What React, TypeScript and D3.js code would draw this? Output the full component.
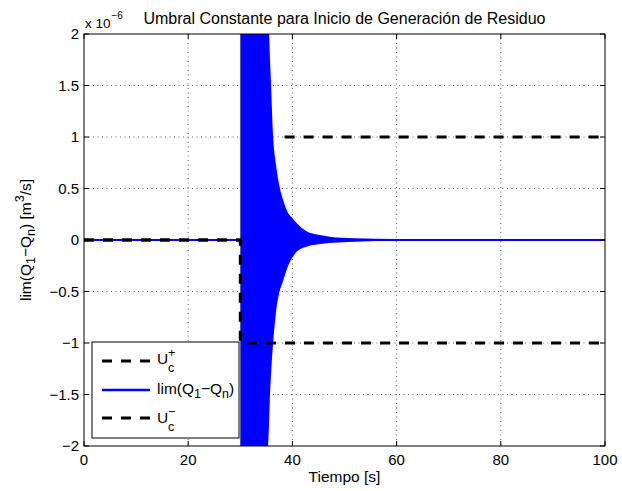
import React from 'react'
import * as d3 from 'd3'

// axis ticks
const xTicks = [0, 20, 40, 60, 80, 100]
const yTicks = [-2, -1.5, -1, -0.5, 0, 0.5, 1, 1.5, 2]
const yTickLabels = ['\u22122', '\u22121.5', '\u22121', '\u22120.5', '0', '0.5', '1', '1.5', '2']

// envelope of the oscillating residual (x 1e-6 m^3/s)
const envTime = [30, 35.3, 35.5, 35.7, 35.9, 36.3, 36.8, 37.4, 38.2, 39.1, 40.0, 40.8, 42.7, 45, 47.2, 52, 60, 70, 100]
const envUpper = [2, 2, 2, 1.75, 1.5, 1.0, 0.75, 0.55, 0.39, 0.27, 0.21, 0.165, 0.085, 0.05, 0.032, 0.017, 0.009, 0.004, 0]
const envLower = [-2, -2, -1.8, -1.5, -1.3, -1.0, -0.72, -0.53, -0.4, -0.26, -0.17, -0.115, -0.065, -0.042, -0.03, -0.016, -0.008, -0.004, 0]

// residual outside the transient
const resTime = [0, 30, 100]
const resVal = [0, 0, 0]

// thresholds
const uPlusTime = [0, 30, 30, 38.5, 100]
const uPlusVal = [0, 0, NaN, 1, 1]
const uMinusTime = [0, 30, 30, 100]
const uMinusVal = [0, 0, -1, -1]

const font = '"Liberation Sans", Arial, Helvetica, sans-serif'

export default function App() {
  const margin = { top: 34, left: 84, right: 605, bottom: 446 }

  const x = d3.scaleLinear().domain([0, 100]).range([margin.left, margin.right])
  const y = d3.scaleLinear().domain([-2, 2]).range([margin.bottom, margin.top])

  const area = d3.area<number>()
    .x((d, i) => x(envTime[i]))
    .y0((d, i) => y(envLower[i]))
    .y1((d, i) => y(envUpper[i]))
    .curve(d3.curveMonotoneX)

  const line = d3.line<[number, number]>()
    .defined(d => !isNaN(d[1]))
    .x(d => x(d[0]))
    .y(d => y(d[1]))

  const uPlus = uPlusTime.map((t, i) => [t, uPlusVal[i]] as [number, number])
  const uMinus = uMinusTime.map((t, i) => [t, uMinusVal[i]] as [number, number])
  const res = resTime.map((t, i) => [t, resVal[i]] as [number, number])

  const w = margin.right - margin.left
  const h = margin.bottom - margin.top
  const dash = '10,9'
  const fs = 15
  const lfs = 15.5
  const sub = 12.5

  // legend
  const lg = { x: 92, y: 342, w: 147, h: 96 }
  const rows = [361, 390, 418]

  return (
    <svg width={622} height={491} style={{ position: 'absolute', left: 0, top: 0, background: '#fff' }} fontFamily={font}>
      <defs>
        <clipPath id="plot">
          <rect x={margin.left} y={margin.top} width={w} height={h} />
        </clipPath>
      </defs>
      <rect x={margin.left} y={margin.top} width={w} height={h} fill="#fff" />

      {/* grid */}
      {xTicks.slice(1, -1).map(t => (
        <line key={'gx' + t} x1={x(t)} x2={x(t)} y1={margin.top} y2={margin.bottom}
          stroke="#000" strokeWidth={0.6} strokeDasharray="1,3.5" />
      ))}
      {yTicks.slice(1, -1).map(t => (
        <line key={'gy' + t} x1={margin.left} x2={margin.right} y1={y(t)} y2={y(t)}
          stroke="#000" strokeWidth={0.6} strokeDasharray="1,3.5" />
      ))}

      <g clipPath="url(#plot)">
        <path d={line(uPlus) || ''} fill="none" stroke="#000" strokeWidth={3} strokeDasharray={dash} />
        <path d={area(envTime) || ''} fill="#0000ff" />
        <path d={line(res) || ''} fill="none" stroke="#0000ff" strokeWidth={2} />
        <path d={line(uMinus) || ''} fill="none" stroke="#000" strokeWidth={3} strokeDasharray={dash} />
      </g>

      {/* axes box and ticks */}
      <rect x={margin.left} y={margin.top} width={w} height={h} fill="none" stroke="#000" strokeWidth={1} />
      {xTicks.map(t => (
        <g key={'tx' + t}>
          <line x1={x(t)} x2={x(t)} y1={margin.bottom} y2={margin.bottom - 5} stroke="#000" />
          <line x1={x(t)} x2={x(t)} y1={margin.top} y2={margin.top + 5} stroke="#000" />
          <text x={x(t)} y={465} textAnchor="middle" fontSize={fs}>{t}</text>
        </g>
      ))}
      {yTicks.map((t, i) => (
        <g key={'ty' + t}>
          <line x1={margin.left} x2={margin.left + 5} y1={y(t)} y2={y(t)} stroke="#000" />
          <line x1={margin.right} x2={margin.right - 5} y1={y(t)} y2={y(t)} stroke="#000" />
          <text x={79} y={y(t) + 5} textAnchor="end" fontSize={fs}>{yTickLabels[i]}</text>
        </g>
      ))}

      {/* exponent */}
      <text x={85} y={28} fontSize={13.5}>x 10<tspan fontSize={10} dx={1} dy={-9}>{'\u22126'}</tspan></text>

      {/* title */}
      <text x={(margin.left + margin.right) / 2} y={23.5} textAnchor="middle" fontSize={16}>
        Umbral Constante para Inicio de Generación de Residuo
      </text>

      {/* x label */}
      <text x={(margin.left + margin.right) / 2} y={482} textAnchor="middle" fontSize={lfs}>Tiempo [s]</text>

      {/* y label */}
      <text transform={`translate(31, ${(margin.top + margin.bottom) / 2}) rotate(-90)`} textAnchor="middle" fontSize={lfs}>
        lim(Q<tspan fontSize={sub} dy={4}>1</tspan><tspan dy={-4}>{'\u2212'}Q</tspan><tspan fontSize={sub} dy={4}>n</tspan><tspan dy={-4}>) [m</tspan><tspan fontSize={sub} dy={-7}>3</tspan><tspan dy={7}>/s]</tspan>
      </text>

      {/* legend */}
      <rect x={lg.x} y={lg.y} width={lg.w} height={lg.h} fill="#fff" stroke="#000" strokeWidth={1} />
      <line x1={102} x2={150} y1={rows[0]} y2={rows[0]} stroke="#000" strokeWidth={3} strokeDasharray={dash} />
      <text x={157} y={rows[0] + 3} fontSize={lfs}>U</text>
      <text x={168} y={rows[0] - 4} fontSize={sub}>+</text>
      <text x={168} y={rows[0] + 11} fontSize={sub}>c</text>

      <line x1={102} x2={150} y1={rows[1]} y2={rows[1]} stroke="#0000ff" strokeWidth={2.5} />
      <text x={157} y={rows[1] + 4} fontSize={lfs}>
        lim(Q<tspan fontSize={sub} dy={4}>1</tspan><tspan dy={-4}>{'\u2212'}Q</tspan><tspan fontSize={sub} dy={4}>n</tspan><tspan dy={-4}>)</tspan>
      </text>

      <line x1={102} x2={150} y1={rows[2]} y2={rows[2]} stroke="#000" strokeWidth={3} strokeDasharray={dash} />
      <text x={157} y={rows[2] + 5} fontSize={lfs}>U</text>
      <text x={168} y={rows[2] - 2} fontSize={sub}>{'\u2212'}</text>
      <text x={168} y={rows[2] + 13} fontSize={sub}>c</text>
    </svg>
  )
}
